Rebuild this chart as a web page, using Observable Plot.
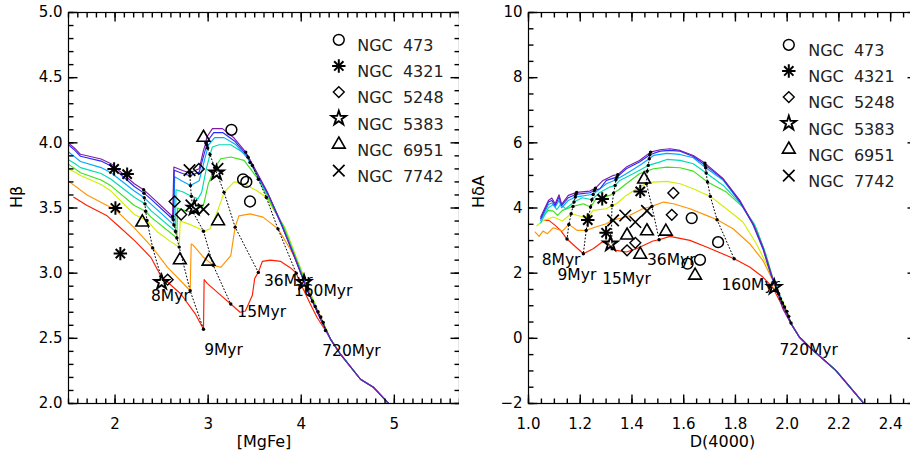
<!DOCTYPE html>
<html>
<head>
<meta charset="utf-8">
<script src="https://cdn.jsdelivr.net/npm/d3@7"></script>
<script src="https://cdn.jsdelivr.net/npm/@observablehq/plot@0.6"></script>
<style>
html, body { margin:0; padding:0; background:#fff; overflow:hidden; }
#wrap { display:flex; width:916px; height:453px; }
#wrap svg { flex:none; display:block; }
</style>
</head>
<body>
<div id="wrap"></div>
<script>
// ---------- common ----------
const curveColors = ["#7d1ea6", "#2a2aff", "#00a8ff", "#00dcb0", "#3ee01a", "#d2ee00", "#ff9400", "#ff1e00"];
const ageNames = ["8Myr", "9Myr", "15Myr", "36Myr", "160Myr", "720Myr"];
const galaxyNames = ["NGC\u00a0\u00a0473", "NGC\u00a0\u00a04321", "NGC\u00a0\u00a05248", "NGC\u00a0\u00a05383", "NGC\u00a0\u00a06951", "NGC\u00a0\u00a07742"];
const galaxySymbols = ["circle", "asterisk", "diamond", "star", "triangle", "times"];

// ---------- left panel: [MgFe] vs Hbeta ----------
const mgfeTail = [[4.421,2.378],[4.636,2.186],[4.779,2.122],[4.939,2.0]];
const mgfePurple = [[1.50,4.00],[1.571,3.955],[1.629,3.912],[1.85,3.876],[1.957,3.84],[2.207,3.686],[2.307,3.64],[2.386,3.589],[2.618,3.435],[2.632,3.814],[2.725,3.788],[2.80,3.77],[2.904,3.801],[2.95,3.942],[2.975,4.00],[2.986,4.045],[3.046,4.109],[3.154,4.109],[3.279,4.037],[3.404,3.929],[3.493,3.814],[3.636,3.622],[3.779,3.391],[3.921,3.135],[4.064,2.871],[4.207,2.647],[4.314,2.494]];
const mgfeBlue = [[1.50,3.985],[1.571,3.94],[1.629,3.897],[1.85,3.86],[1.957,3.822],[2.207,3.665],[2.311,3.614],[2.386,3.568],[2.625,3.41],[2.636,3.79],[2.725,3.765],[2.805,3.747],[2.904,3.775],[2.957,3.915],[2.985,3.985],[3.0,4.02],[3.06,4.078],[3.16,4.078],[3.29,4.01],[3.41,3.91],[3.429,3.89],[3.50,3.795],[3.645,3.605],[3.785,3.378],[3.928,3.125],[4.07,2.862],[4.09,2.83],[4.21,2.645],[4.314,2.494]];
const mgfeCyan = [[1.50,3.93],[1.571,3.89],[1.629,3.857],[1.85,3.81],[1.957,3.77],[2.207,3.63],[2.314,3.578],[2.386,3.53],[2.632,3.37],[2.64,3.74],[2.725,3.705],[2.81,3.672],[2.904,3.71],[2.96,3.865],[2.995,3.96],[3.005,3.985],[3.07,4.04],[3.17,4.04],[3.30,3.985],[3.42,3.885],[3.45,3.85],[3.51,3.77],[3.655,3.585],[3.79,3.365],[3.935,3.115],[4.078,2.85],[4.12,2.785],[4.215,2.64],[4.314,2.494]];
const mgfeAqua = [[1.50,3.87],[1.571,3.84],[1.629,3.81],[1.85,3.765],[1.957,3.72],[2.207,3.583],[2.321,3.532],[2.386,3.48],[2.65,3.32],[2.655,3.64],[2.725,3.625],[2.82,3.59],[2.89,3.57],[2.93,3.62],[2.98,3.80],[3.02,3.91],[3.046,3.968],[3.118,3.985],[3.243,3.985],[3.40,3.915],[3.475,3.827],[3.52,3.755],[3.665,3.57],[3.80,3.37],[3.945,3.105],[4.088,2.84],[4.15,2.744],[4.22,2.635],[4.314,2.494]];
const mgfeGreen = [[1.50,3.835],[1.571,3.80],[1.629,3.77],[1.85,3.715],[1.957,3.67],[2.207,3.519],[2.329,3.475],[2.386,3.43],[2.664,3.27],[2.672,3.50],[2.75,3.48],[2.84,3.465],[2.92,3.46],[2.96,3.55],[3.0,3.68],[3.07,3.81],[3.136,3.878],[3.243,3.891],[3.386,3.865],[3.539,3.72],[3.64,3.58],[3.72,3.47],[3.81,3.36],[3.955,3.095],[4.10,2.83],[4.18,2.704],[4.228,2.628],[4.314,2.494]];
const mgfeYellow = [[1.50,3.80],[1.571,3.775],[1.629,3.75],[1.85,3.68],[1.957,3.63],[2.207,3.45],[2.343,3.404],[2.45,3.32],[2.60,3.24],[2.689,3.20],[2.70,3.40],[2.78,3.38],[2.88,3.35],[2.95,3.322],[3.02,3.34],[3.07,3.42],[3.136,3.545],[3.171,3.62],[3.279,3.70],[3.386,3.686],[3.529,3.63],[3.625,3.58],[3.70,3.49],[3.825,3.35],[3.97,3.08],[4.112,2.82],[4.21,2.664],[4.238,2.62],[4.314,2.494]];
const mgfeOrange = [[1.50,3.706],[1.70,3.60],[1.914,3.52],[2.0,3.49],[2.20,3.353],[2.404,3.194],[2.564,3.045],[2.707,2.94],[2.807,2.865],[2.818,3.224],[2.843,3.212],[2.95,3.122],[3.054,3.06],[3.136,3.045],[3.243,3.135],[3.29,3.353],[3.33,3.44],[3.45,3.455],[3.59,3.43],[3.75,3.34],[3.886,3.18],[3.99,3.03],[4.125,2.80],[4.236,2.622],[4.314,2.494]];
const mgfeRed = [[1.557,3.583],[1.70,3.52],[1.914,3.44],[2.04,3.36],[2.21,3.25],[2.386,3.12],[2.493,2.976],[2.707,2.84],[2.86,2.69],[2.95,2.57],[2.957,2.95],[2.993,2.92],[3.10,2.853],[3.243,2.763],[3.343,2.70],[3.40,2.71],[3.475,2.83],[3.50,2.96],[3.539,3.006],[3.582,3.09],[3.67,3.10],[3.78,3.09],[3.886,3.04],[3.946,3.0],[3.993,2.92],[4.10,2.76],[4.17,2.66],[4.261,2.56],[4.314,2.494]];

const mgfeIso8 = [[2.307,3.64],[2.311,3.614],[2.314,3.578],[2.321,3.532],[2.329,3.475],[2.343,3.404],[2.404,3.194],[2.493,2.976]];
const mgfeIso9 = [[2.618,3.435],[2.625,3.41],[2.632,3.37],[2.65,3.32],[2.664,3.27],[2.689,3.20],[2.807,2.865],[2.95,2.57]];
const mgfeIso15 = [[2.80,3.77],[2.805,3.747],[2.81,3.672],[2.82,3.59],[2.84,3.465],[2.95,3.322],[3.054,3.06],[3.243,2.763]];
const mgfeIso36 = [[2.975,4.00],[2.985,3.985],[2.995,3.96],[3.02,3.91],[3.07,3.81],[3.171,3.62],[3.29,3.353],[3.539,3.006]];
const mgfeIso160 = [[3.404,3.929],[3.429,3.89],[3.45,3.85],[3.475,3.827],[3.539,3.72],[3.625,3.58],[3.75,3.34],[3.946,3.0]];
const mgfeIso720 = [[4.064,2.871],[4.09,2.83],[4.12,2.785],[4.15,2.744],[4.18,2.704],[4.21,2.664],[4.236,2.622],[4.261,2.56]];
const mgfeAgeLabelPos = [[2.386,2.827],[2.957,2.41],[3.314,2.699],[3.60,2.94],[3.921,2.865],[4.225,2.404]];

const mgfe473 = [[3.25,4.10],[3.375,3.72],[3.41,3.70],[3.45,3.55]];
const mgfe4321 = [[1.99,3.80],[2.13,3.76],[2.004,3.50],[2.057,3.15]];
const mgfe5248 = [[2.64,3.55],[2.71,3.45],[2.90,3.80],[2.565,2.95]];
const mgfe5383 = [[2.50,2.93],[2.85,3.50],[3.09,3.77],[4.03,2.93]];
const mgfe6951 = [[2.95,4.04],[2.293,3.39],[2.696,3.10],[3.004,3.09],[3.107,3.40]];
const mgfe7742 = [[2.80,3.79],[3.10,3.80],[2.82,3.52],[2.95,3.49]];

const mgfeXMajor = [2, 3, 4, 5];
const mgfeYMajor = [2.0, 2.5, 3.0, 3.5, 4.0, 4.5, 5.0];

// ---------- right panel: D(4000) vs HdeltaA ----------
const d4Tail = [[2.015,0.450],[2.047,0.041],[2.086,-0.266],[2.188,-0.982],[2.297,-2.004]];
const d4Purple = [[1.047,3.722],[1.077,4.233],[1.090,4.305],[1.103,4.131],[1.118,4.407],[1.128,4.110],[1.154,4.387],[1.186,4.479],[1.237,4.519],[1.259,4.611],[1.288,4.847],[1.327,5.0],[1.345,5.020],[1.378,5.256],[1.429,5.460],[1.472,5.716],[1.509,5.787],[1.547,5.818],[1.586,5.767],[1.637,5.613],[1.682,5.378],[1.753,4.898],[1.817,4.233],[1.868,3.517],[1.906,2.802],[1.938,1.984],[1.958,1.523],[1.983,0.910]];
const d4Blue = [[1.047,3.671],[1.077,4.182],[1.090,4.233],[1.103,4.080],[1.118,4.335],[1.128,4.080],[1.154,4.315],[1.183,4.417],[1.237,4.468],[1.255,4.540],[1.276,4.591],[1.301,4.847],[1.342,4.949],[1.378,5.205],[1.429,5.409],[1.469,5.634],[1.509,5.746],[1.547,5.767],[1.586,5.746],[1.637,5.583],[1.683,5.317],[1.753,4.877],[1.817,4.202],[1.868,3.487],[1.906,2.751],[1.938,1.933],[1.967,1.370]];
const d4Cyan = [[1.047,3.620],[1.077,4.110],[1.090,4.151],[1.103,4.029],[1.118,4.233],[1.128,4.008],[1.154,4.233],[1.181,4.335],[1.237,4.407],[1.250,4.417],[1.269,4.540],[1.301,4.744],[1.338,4.867],[1.378,5.051],[1.429,5.307],[1.467,5.511],[1.483,5.613],[1.535,5.675],[1.586,5.644],[1.637,5.542],[1.685,5.235],[1.753,4.847],[1.817,4.182],[1.872,3.466],[1.910,2.700],[1.941,1.881],[1.974,1.217]];
const d4Aqua = [[1.047,3.538],[1.077,4.008],[1.096,4.110],[1.109,3.947],[1.124,4.110],[1.144,3.978],[1.176,4.182],[1.208,4.315],[1.245,4.254],[1.272,4.458],[1.314,4.642],[1.335,4.693],[1.353,4.847],[1.404,5.051],[1.463,5.307],[1.506,5.409],[1.535,5.491],[1.586,5.460],[1.637,5.358],[1.687,5.072],[1.753,4.693],[1.817,4.151],[1.874,3.497],[1.913,2.679],[1.945,1.800],[1.982,1.084]];
const d4Green = [[1.051,3.701],[1.077,3.926],[1.096,3.906],[1.112,3.773],[1.131,3.926],[1.172,4.049],[1.212,4.131],[1.240,4.029],[1.259,4.254],[1.314,4.387],[1.329,4.458],[1.349,4.560],[1.378,4.744],[1.429,5.051],[1.459,5.133],[1.483,5.205],[1.535,5.256],[1.586,5.235],[1.637,5.133],[1.692,4.796],[1.765,4.489],[1.829,4.029],[1.881,3.364],[1.919,2.546],[1.949,1.728],[1.990,0.961]];
const d4Yellow = [[1.032,3.456],[1.054,3.599],[1.096,3.722],[1.131,3.599],[1.165,3.824],[1.212,3.722],[1.233,3.742],[1.250,3.926],[1.301,3.978],[1.323,4.080],[1.340,4.131],[1.378,4.387],[1.429,4.642],[1.456,4.744],[1.481,4.796],[1.535,4.816],[1.586,4.744],[1.637,4.591],[1.703,4.356],[1.765,3.978],[1.829,3.569],[1.881,2.904],[1.926,2.188],[1.954,1.626],[1.999,0.828]];
const d4Orange = [[1.026,3.262],[1.041,3.129],[1.056,3.292],[1.073,3.211],[1.096,3.395],[1.131,3.292],[1.156,3.497],[1.188,3.313],[1.223,3.313],[1.259,3.415],[1.301,3.517],[1.321,3.620],[1.378,3.722],[1.442,3.978],[1.477,4.049],[1.522,4.182],[1.560,4.131],[1.624,3.978],[1.688,3.773],[1.729,3.640],[1.791,3.364],[1.855,2.904],[1.906,2.393],[1.945,1.779],[1.977,1.20],[2.006,0.675]];
const d4Red = [[1.060,3.620],[1.079,3.620],[1.103,3.466],[1.124,3.313],[1.149,3.047],[1.169,2.904],[1.212,2.597],[1.250,2.751],[1.285,2.955],[1.308,2.924],[1.323,2.751],[1.340,2.700],[1.378,2.648],[1.417,2.751],[1.481,2.986],[1.505,3.027],[1.547,3.129],[1.624,3.006],[1.688,2.802],[1.795,2.444],[1.855,2.188],[1.906,1.881],[1.945,1.554],[1.983,0.961]];

const d4Iso8 = [[1.186,4.479],[1.183,4.417],[1.181,4.335],[1.176,4.182],[1.172,4.049],[1.165,3.824],[1.156,3.497],[1.149,3.047]];
const d4Iso9 = [[1.259,4.611],[1.255,4.540],[1.250,4.417],[1.245,4.254],[1.240,4.029],[1.233,3.742],[1.223,3.313],[1.212,2.597]];
const d4Iso15 = [[1.345,5.020],[1.342,4.949],[1.338,4.867],[1.335,4.693],[1.329,4.458],[1.323,4.080],[1.321,3.620],[1.323,2.751]];
const d4Iso36 = [[1.472,5.716],[1.469,5.634],[1.467,5.511],[1.463,5.307],[1.459,5.133],[1.456,4.744],[1.477,4.049],[1.505,3.027]];
const d4Iso160 = [[1.682,5.378],[1.683,5.317],[1.685,5.235],[1.687,5.072],[1.692,4.796],[1.703,4.356],[1.729,3.640],[1.795,2.444]];
const d4Iso720 = [[1.958,1.523],[1.967,1.370],[1.974,1.217],[1.982,1.084],[1.990,0.961],[1.999,0.828],[2.006,0.675],[2.015,0.470]];
const d4AgeLabelPos = [[1.051,2.41],[1.112,1.93],[1.285,1.83],[1.458,2.39],[1.746,1.63],[1.97,-0.37]];

const d4473 = [[1.631,3.69],[1.733,2.95],[1.663,2.41],[1.615,2.29]];
const d44321 = [[1.285,4.28],[1.229,3.63],[1.432,4.51],[1.30,3.24]];
const d45248 = [[1.56,4.46],[1.554,3.79],[1.413,2.93],[1.381,2.70]];
const d45383 = [[1.317,2.90],[1.95,1.57]];
const d46951 = [[1.447,4.88],[1.381,3.16],[1.458,3.29],[1.531,3.28],[1.432,2.57],[1.644,1.93]];
const d47742 = [[1.327,3.62],[1.374,3.77],[1.413,3.57],[1.458,3.91]];

const d4XMajor = [1.0, 1.2, 1.4, 1.6, 1.8, 2.0, 2.2, 2.4];
const d4YMajor = [-2, 0, 2, 4, 6, 8, 10];

// ---------- drawing ----------
const H = 453, MT = 12, MB = 50;
const px = d => d[0], py = d => d[1];

function symbolMarks(data, kind, pos) {
  const base = {stroke: "#000", fill: "none", ...pos};
  switch (kind) {
    case "circle":   return [Plot.dot(data, {...base, symbol: "circle", r: 5.4, strokeWidth: 1.5})];
    case "asterisk": return [Plot.dot(data, {...base, symbol: "plus", r: 4.4, strokeWidth: 2}),
                             Plot.dot(data, {...base, symbol: "times", r: 4.3, strokeWidth: 2})];
    case "diamond":  return [Plot.dot(data, {...base, symbol: "diamond2", r: 4.9, strokeWidth: 1.4})];
    case "star":     return [Plot.dot(data, {...base, symbol: "star", r: 4.5, strokeWidth: 1.9})];
    case "triangle": return [Plot.dot(data, {...base, symbol: "triangle2", r: 6.1, strokeWidth: 1.6})];
    case "times":    return [Plot.dot(data, {...base, symbol: "times", r: 5.3, strokeWidth: 1.7})];
  }
}

// inward IDL-style ticks on all four sides (Plot link marks, lengths converted to data units)
function tickMarks(o) {
  const innerW = o.width - o.marginLeft, innerH = H - MT - MB;
  const [x0, x1] = o.xDomain, [y0, y1] = o.yDomain;
  const ky = (y1 - y0) / innerH, kx = (x1 - x0) / innerW;
  const st = {stroke: "#000", strokeWidth: 1.4};
  const vert = (vals, len) => [
    Plot.link(vals, {x1: d => d, x2: d => d, y1: () => y0, y2: () => y0 + len * ky, ...st}),
    Plot.link(vals, {x1: d => d, x2: d => d, y1: () => y1, y2: () => y1 - len * ky, ...st})
  ];
  const horiz = (vals, len) => [
    Plot.link(vals, {y1: d => d, y2: d => d, x1: () => x0, x2: () => x0 + len * kx, ...st}),
    Plot.link(vals, {y1: d => d, y2: d => d, x1: () => x1, x2: () => x1 - len * kx, ...st})
  ];
  return [...vert(o.xMinor, 5), ...vert(o.xMajor, 9), ...horiz(o.yMinor, 5), ...horiz(o.yMajor, 9)];
}

function panel(o) {
  const marks = [];
  // draw red first so the purple (top) model ends up on top, as in the original
  o.curves.map((pts, i) => [pts, i]).reverse().forEach(([pts, i]) => {
    marks.push(Plot.line(o.tail ? pts.concat(o.tail) : pts, {x: px, y: py, stroke: curveColors[i], strokeWidth: 1.15, clip: true}));
  });
  o.isos.forEach(pts => {
    marks.push(Plot.line(pts, {x: px, y: py, stroke: "#000", strokeWidth: 1, strokeDasharray: "1 2.4", clip: true}));
    marks.push(Plot.dot(pts, {x: px, y: py, r: 1.7, fill: "#000", stroke: null}));
  });
  marks.push(Plot.text(o.agePos, {x: px, y: py, text: (d, i) => ageNames[i], textAnchor: "start", fontSize: 15.5, fill: "#000"}));
  o.galaxies.forEach((pts, i) => marks.push(...symbolMarks(pts, galaxySymbols[i], {x: px, y: py})));
  // legend
  galaxyNames.forEach((name, i) => {
    const dy = o.legY + i * 26.15 - MT;
    marks.push(...symbolMarks([name], galaxySymbols[i], {frameAnchor: "top-left", dx: o.legSymX - o.marginLeft, dy}));
    marks.push(Plot.text([name], {frameAnchor: "top-left", dx: o.legTextX - o.marginLeft, dy, text: d => d, textAnchor: "start", fontSize: 16, fill: "#222"}));
  });
  marks.push(Plot.frame({stroke: "#000", strokeWidth: 1.2}));
  marks.push(...tickMarks(o));
  marks.push(Plot.axisX(o.xMajor, {anchor: "bottom", tickSize: 0, tickPadding: 15, tickFormat: o.xFmt, label: null, fontSize: 15}));
  marks.push(Plot.axisY(o.yMajor, {anchor: "left", tickSize: 0, tickPadding: 6, tickFormat: o.yFmt, label: null, fontSize: 15}));
  marks.push(Plot.text([o.xTitle], {frameAnchor: "bottom", dy: 43, text: d => d, fontSize: 16, fill: "#000"}));
  marks.push(Plot.text([o.yTitle], {frameAnchor: "left", dx: o.yTitleDx, rotate: -90, text: d => d, fontSize: 16, fill: "#000"}));
  return Plot.plot({
    width: o.width, height: H, marginTop: MT, marginBottom: MB, marginLeft: o.marginLeft, marginRight: 0,
    x: {domain: o.xDomain}, y: {domain: o.yDomain},
    style: {fontFamily: "DejaVu Sans", fontSize: "15px", background: "#fff", color: "#000"},
    marks
  });
}

const wrap = document.getElementById("wrap");
wrap.appendChild(panel({
  width: 459, marginLeft: 68, xDomain: [1.5, 5.7], yDomain: [2.0, 5.0],
  curves: [mgfePurple, mgfeBlue, mgfeCyan, mgfeAqua, mgfeGreen, mgfeYellow, mgfeOrange, mgfeRed], tail: mgfeTail,
  isos: [mgfeIso8, mgfeIso9, mgfeIso15, mgfeIso36, mgfeIso160, mgfeIso720], agePos: mgfeAgeLabelPos,
  galaxies: [mgfe473, mgfe4321, mgfe5248, mgfe5383, mgfe6951, mgfe7742],
  xMajor: mgfeXMajor, xMinor: d3.range(15, 58).map(v => v / 10),
  yMajor: mgfeYMajor, yMinor: d3.range(20, 51).map(v => v / 10),
  xFmt: d3.format("d"), yFmt: d3.format(".1f"),
  xTitle: "[MgFe]", yTitle: "Hβ", yTitleDx: -52,
  legSymX: 338.3, legTextX: 356.7, legY: 39.3
}));
wrap.appendChild(panel({
  width: 457, marginLeft: 69, xDomain: [1.0, 2.5], yDomain: [-2, 10],
  curves: [d4Purple, d4Blue, d4Cyan, d4Aqua, d4Green, d4Yellow, d4Orange, d4Red], tail: d4Tail,
  isos: [d4Iso8, d4Iso9, d4Iso15, d4Iso36, d4Iso160, d4Iso720], agePos: d4AgeLabelPos,
  galaxies: [d4473, d44321, d45248, d45383, d46951, d47742],
  xMajor: d4XMajor, xMinor: d3.range(20, 51).map(v => v / 20),
  yMajor: d4YMajor, yMinor: d3.range(-4, 21).map(v => v / 2),
  xFmt: d3.format(".1f"), yFmt: d3.format("d"),
  xTitle: "D(4000)", yTitle: "HδA", yTitleDx: -50,
  legSymX: 788.3 - 459, legTextX: 807.7 - 459, legY: 44.3
}));
</script>
</body>
</html>
